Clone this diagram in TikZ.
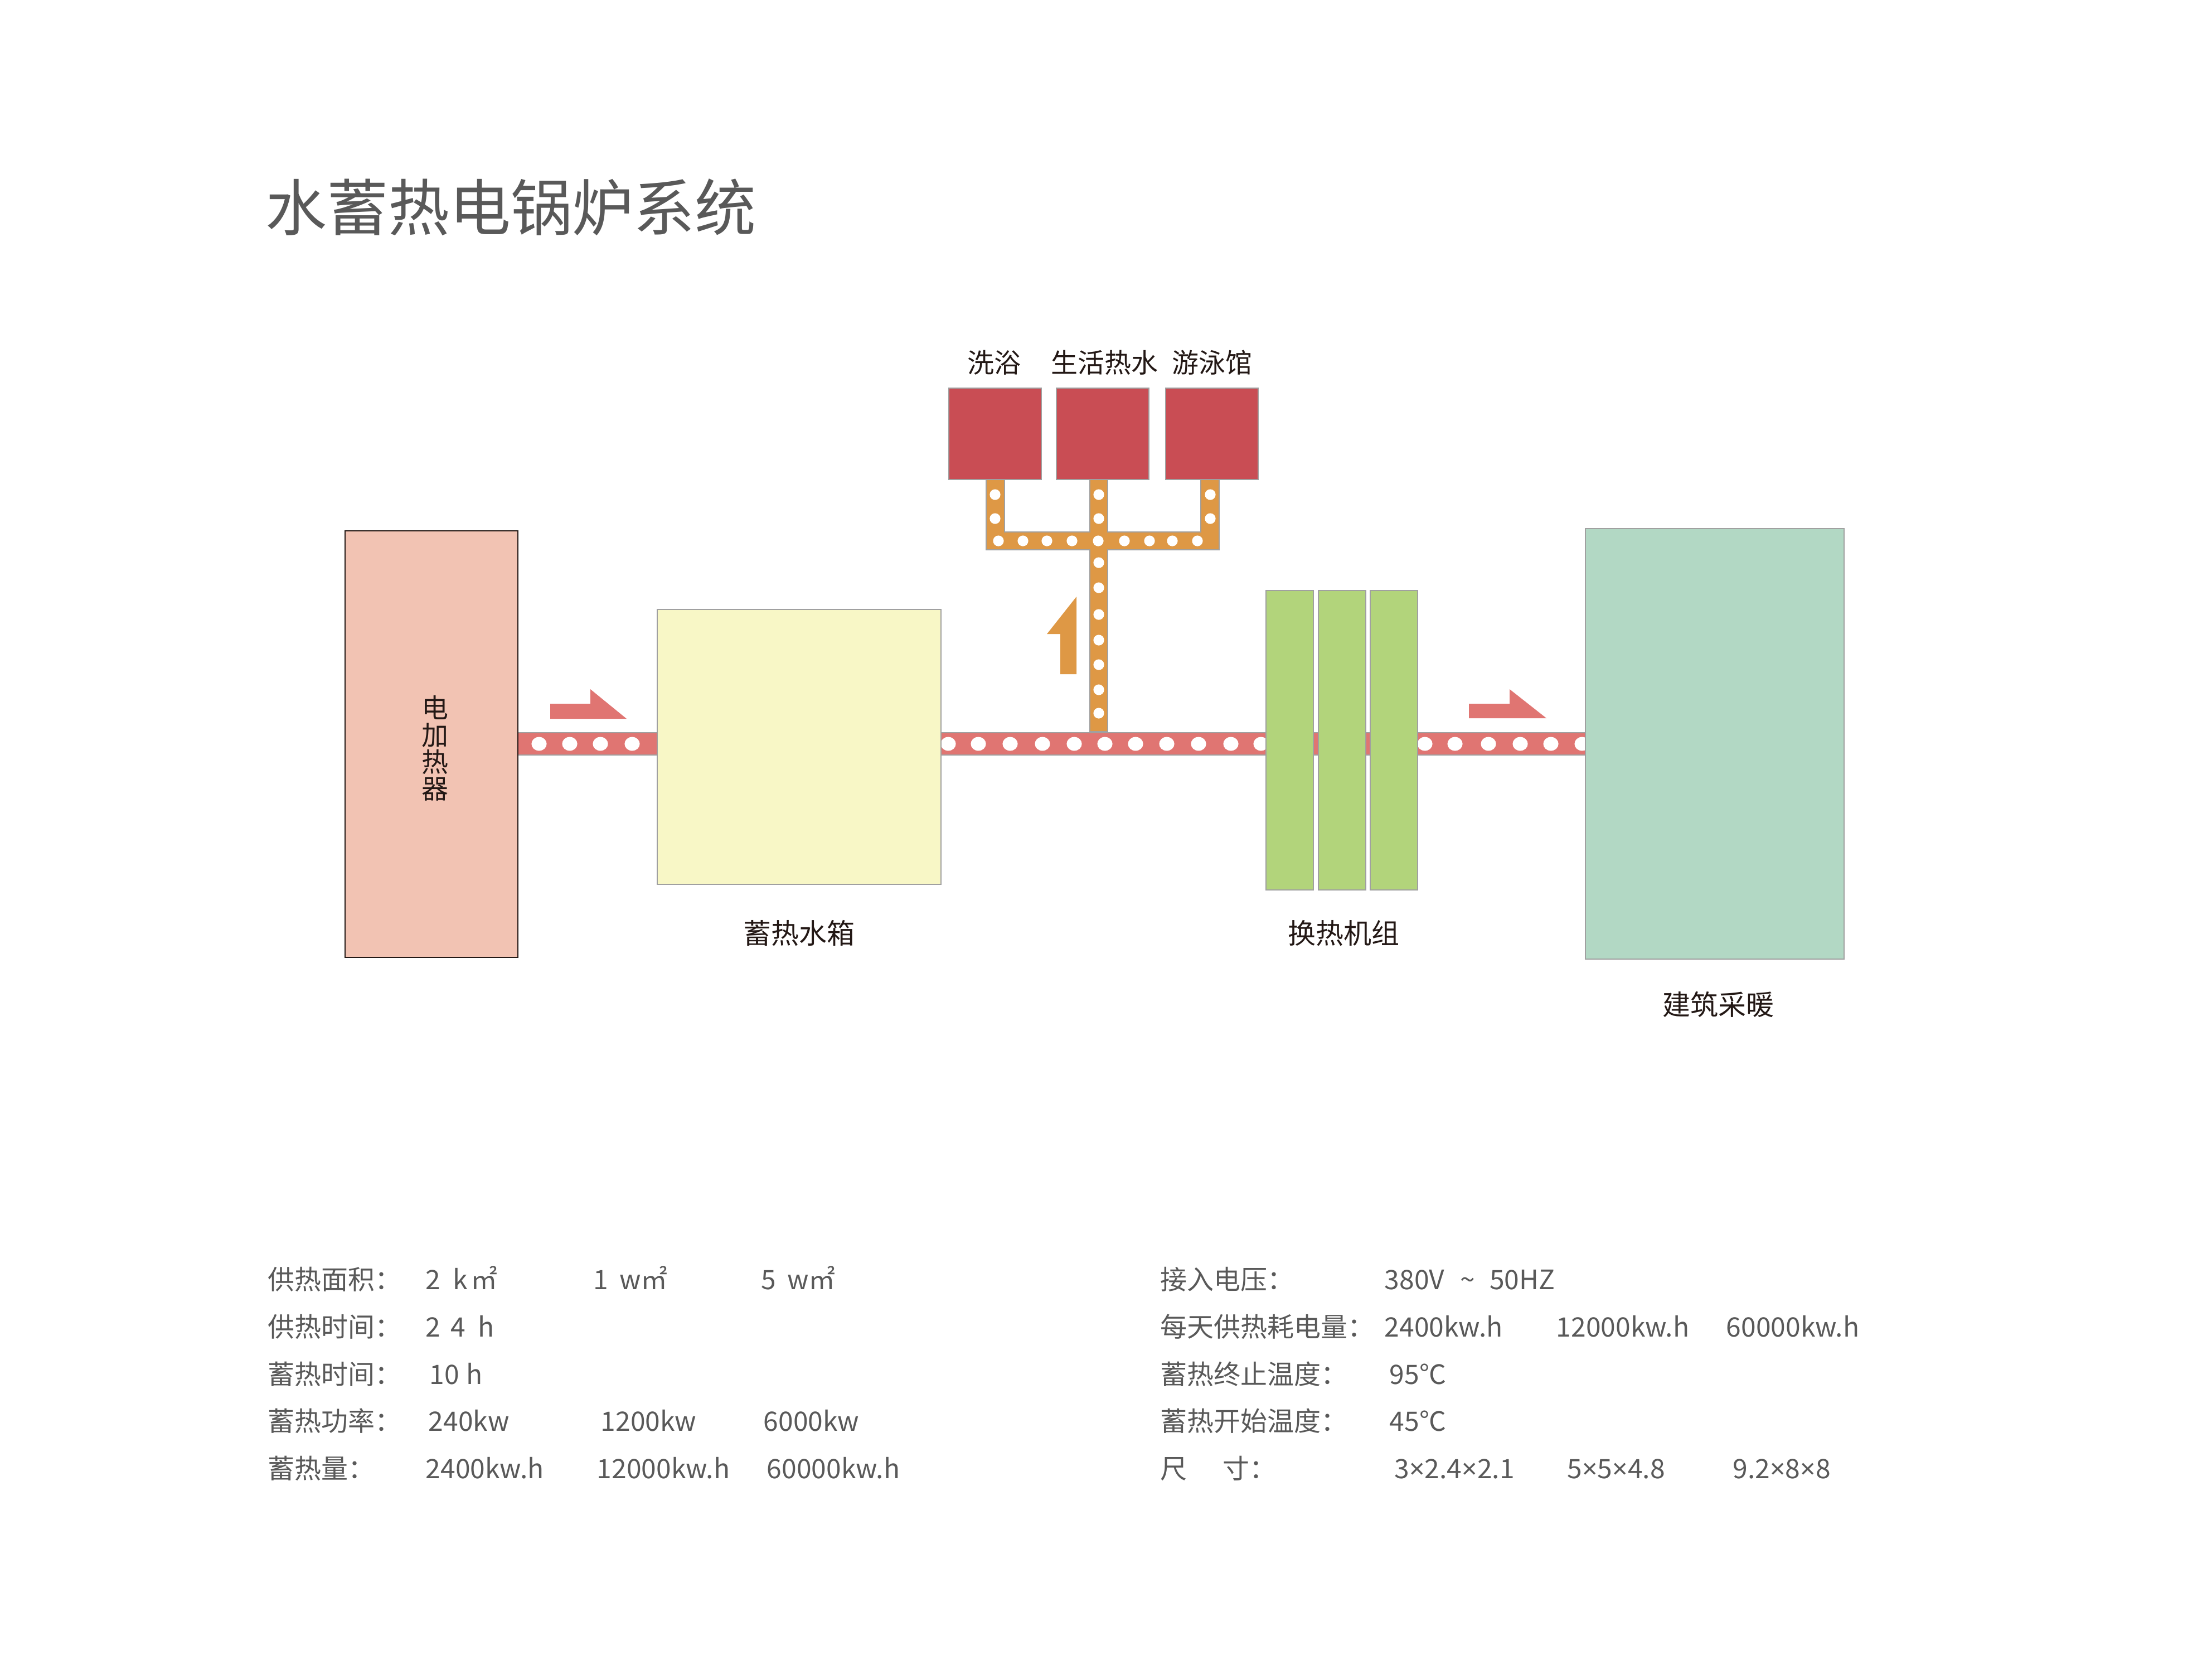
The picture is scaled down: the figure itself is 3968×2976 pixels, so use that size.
\documentclass[tikz,border=0pt]{standalone}
\usepackage{fontspec}
\setmainfont{Noto Sans CJK SC}
\newfontfamily\narrowsym{Noto Sans}
\newcommand{\tms}{{\narrowsym ×}}
\usetikzlibrary{fit}
\definecolor{heaterfill}{HTML}{F2C3B3}
\definecolor{tankfill}{HTML}{F8F7C6}
\definecolor{hxfill}{HTML}{B2D47B}
\definecolor{bldgfill}{HTML}{B2D8C4}
\definecolor{userfill}{HTML}{C94D54}
\definecolor{pipered}{HTML}{E07572}
\definecolor{pipeorange}{HTML}{DE9845}
\definecolor{edgegray}{HTML}{A0A0A0}
\definecolor{textgray}{HTML}{595959}
\definecolor{labeldark}{HTML}{231815}
\pgfdeclarelayer{bglayer}
\pgfsetlayers{bglayer,main}
\begin{document}
\begin{tikzpicture}[x=0.25pt,y=-0.25pt,
  boxunit/.style={inner sep=0pt, outer sep=0pt, draw=edgegray, line width=0.6pt},
  lbltext/.style={font=\fontsize{12.5pt}{14pt}\selectfont, text=labeldark, inner sep=0pt},
  toptext/.style={font=\fontsize{12pt}{14pt}\selectfont, text=labeldark, inner sep=0pt},
  infotext/.style={font=\fontsize{12pt}{14pt}\selectfont, text=textgray, inner sep=0pt, anchor=base west},
  pipeedge/.style={draw=edgegray, line width=0.5pt},
  reddot/.style={fill=white},
  orangedot/.style={fill=white}
]
% ---------- boxes ----------
\node[boxunit, draw=labeldark, line width=0.5pt, fill=heaterfill, fit={(619,952)(929,1717)}] (heater) {};
\node[boxunit, fill=tankfill, fit={(1179,1093)(1688,1586)}] (tank) {};
\node[boxunit, fill=hxfill, fit={(2271,1059)(2356,1596)}] (hx1) {};
\node[boxunit, fill=hxfill, fit={(2365,1059)(2450,1596)}] (hx2) {};
\node[boxunit, fill=hxfill, fit={(2458,1059)(2543,1596)}] (hx3) {};
\node[boxunit, fill=bldgfill, fit={(2844,948)(3308,1720)}] (bldg) {};
\node[boxunit, fill=userfill, fit={(1702,696)(1868,860)}] (u1) {};
\node[boxunit, fill=userfill, fit={(1895,696)(2061,860)}] (u2) {};
\node[boxunit, fill=userfill, fit={(2091,696)(2257,860)}] (u3) {};

% ---------- labels ----------
\node[lbltext, align=center, font=\fontsize{12pt}{12.1pt}\selectfont] (heatertxt) at (780,1342) {电\\加\\热\\器};
\node[lbltext] (tanktxt) at (1433,1673) {蓄热水箱};
\node[lbltext] (hxtxt) at (2410,1674) {换热机组};
\node[lbltext] (bldgtxt) at (3082,1801) {建筑采暖};
\node[toptext] (u1txt) at (1783,650) {洗浴};
\node[toptext] (u2txt) at (1981,650) {生活热水};
\node[toptext] (u3txt) at (2174,650) {游泳馆};

\node[inner sep=0pt, anchor=west, text=textgray, font=\fontsize{27.5pt}{30pt}\selectfont] (title) at (476,372) {水蓄热电锅炉系统};

% ---------- info table, left ----------
\node[infotext] (l1) at (480,2312) {供热面积：};
\node[infotext] (l1a) at (763,2312) {2\hspace{5.5pt}k\hspace{1.5pt}㎡};
\node[infotext] (l1b) at (1064,2312) {1\hspace{5pt}w㎡};
\node[infotext] (l1c) at (1365,2312) {5\hspace{5pt}w㎡};
\node[infotext] (l2) at (480,2397) {供热时间：};
\node[infotext] (l2a) at (763,2397) {2\hspace{4.5pt}4\hspace{5.5pt}h};
\node[infotext] (l3) at (480,2482) {蓄热时间：};
\node[infotext] (l3a) at (770,2482) {10\hspace{3pt}h};
\node[infotext] (l4) at (480,2566) {蓄热功率：};
\node[infotext] (l4a) at (768,2566) {240kw};
\node[infotext] (l4b) at (1077,2566) {1200kw};
\node[infotext] (l4c) at (1369,2566) {6000kw};
\node[infotext] (l5) at (480,2651) {蓄热量：};
\node[infotext] (l5a) at (763,2651) {2400kw.h};
\node[infotext] (l5b) at (1070,2651) {12000kw.h};
\node[infotext] (l5c) at (1375,2651) {60000kw.h};

% ---------- info table, right ----------
\node[infotext] (r1) at (2081,2312) {接入电压：};
\node[infotext] (r1a) at (2483,2312) {380V\hspace{7pt}\textasciitilde\hspace{6.5pt}50HZ};
\node[infotext] (r2) at (2081,2397) {每天供热耗电量：};
\node[infotext] (r2a) at (2483,2397) {2400kw.h};
\node[infotext] (r2b) at (2791,2397) {12000kw.h};
\node[infotext] (r2c) at (3096,2397) {60000kw.h};
\node[infotext] (r3) at (2081,2482) {蓄热终止温度：};
\node[infotext] (r3a) at (2492,2482) {95℃};
\node[infotext] (r4) at (2081,2566) {蓄热开始温度：};
\node[infotext] (r4a) at (2492,2566) {45℃};
\node[infotext] (r5) at (2081,2651) {尺};
\node[infotext] (r5x) at (2193,2651) {寸：};
\node[infotext] (r5a) at (2501,2651) {3\tms 2.4\tms 2.1};
\node[infotext] (r5b) at (2811,2651) {5\tms 5\tms 4.8};
\node[infotext] (r5c) at (3108,2651) {9.2\tms 8\tms 8};

% ---------- pipes (behind boxes) ----------
\begin{pgfonlayer}{bglayer}
\fill[white] (0,0) rectangle (3968,2976);
\coordinate (pT) at (0,1314);
\coordinate (pB) at (0,1354);
% heater -> tank
\fill[pipered] (heater.east |- pT) rectangle (tank.west |- pB);
\draw[pipeedge] (heater.east |- pT) -- (tank.west |- pT);
\draw[pipeedge] (heater.east |- pB) -- (tank.west |- pB);
\foreach \x in {967,1022,1077,1134}
  \fill[reddot] (\x,1334) ellipse [x radius=3.4pt, y radius=3.1pt];
% tank -> heat exchanger -> building
\fill[pipered] (tank.east |- pT) rectangle (bldg.west |- pB);
\draw[pipeedge] (tank.east |- pT) -- (bldg.west |- pT);
\draw[pipeedge] (tank.east |- pB) -- (bldg.west |- pB);
\foreach \x in {1701,1755,1812,1870,1927,1982,2037,2093,2150,2208,2262,2556,2610,2670,2727,2782,2838}
  \fill[reddot] (\x,1334) ellipse [x radius=3.4pt, y radius=3.1pt];
% orange branch pipe
\filldraw[fill=pipeorange, draw=edgegray, line width=0.5pt]
  (1769,860) -- (1769,986) -- (1955,986) -- (1955,1312) -- (1987,1312) -- (1987,986)
  -- (2187,986) -- (2187,860) -- (2154,860) -- (2154,954) -- (1987,954) -- (1987,860)
  -- (1955,860) -- (1955,954) -- (1802,954) -- (1802,860) -- cycle;
\foreach \y in {887,930}
  \fill[orangedot] (1785,\y) circle [radius=2.4pt];
\foreach \y in {887,930}
  \fill[orangedot] (2171,\y) circle [radius=2.4pt];
\foreach \x in {1791,1835,1878,1923,1970,2017,2062,2103,2148}
  \fill[orangedot] (\x,970) circle [radius=2.4pt];
\foreach \y in {887,930,1009,1054,1102,1148,1192,1237,1279}
  \fill[orangedot] (1971,\y) circle [radius=2.4pt];
\end{pgfonlayer}

% ---------- flow arrows ----------
\fill[pipered] (987,1262) -- (1059,1262) -- (1059,1236) -- (1124,1289) -- (987,1289) -- cycle;
\fill[pipered] (2635,1262) -- (2708,1262) -- (2708,1236) -- (2774,1288) -- (2635,1288) -- cycle;
\fill[pipeorange] (1902,1209) -- (1902,1137) -- (1878,1137) -- (1931,1070) -- (1931,1209) -- cycle;
\end{tikzpicture}
\end{document}
